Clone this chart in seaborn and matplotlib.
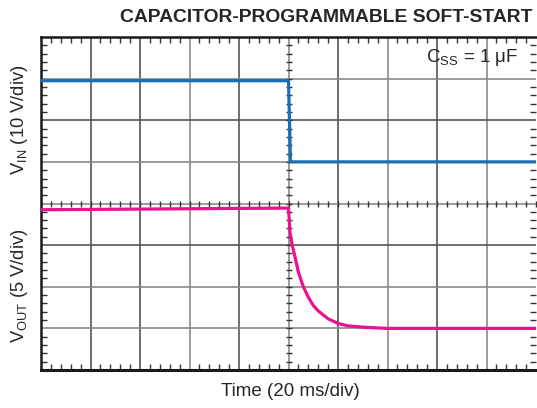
import numpy as np
import pandas as pd
import matplotlib
matplotlib.use("Agg")
import matplotlib.pyplot as plt
from matplotlib.ticker import MultipleLocator
import seaborn as sns

vin_t = [0, 100, 100.8, 200]
vin_div = [6.95, 6.95, 5.0, 5.0]

vout_t = [0, 100, 100.6, 101.5, 102.5, 104, 106, 108, 110, 112, 116, 120, 124, 130, 136, 140, 200]
vout_div = [3.85, 3.89, 3.3, 3.0, 2.75, 2.35, 2.0, 1.75, 1.55, 1.42, 1.23, 1.12, 1.06, 1.03, 1.01, 1.0, 1.0]

title = "CAPACITOR-PROGRAMMABLE SOFT-START"
xlabel = "Time (20 ms/div)"
ylabel_top = r"V$_{\mathregular{IN}}$ (10 V/div)"
ylabel_bot = r"V$_{\mathregular{OUT}}$ (5 V/div)"
note = r"C$_{\mathregular{SS}}$ = 1 μF"

sns.set_style("white")
plt.rcParams["font.family"] = ["Liberation Sans", "DejaVu Sans"]
plt.rcParams["mathtext.fontset"] = "custom"
plt.rcParams["mathtext.rm"] = "Liberation Sans"

df_in = pd.DataFrame({"t": vin_t, "v": vin_div})
df_out = pd.DataFrame({"t": vout_t, "v": vout_div})

fig = plt.figure(figsize=(5.37, 4.08), dpi=100)
ax = fig.add_axes([41 / 537, 1 - 370 / 408, 495 / 537, 333 / 408])

# grille type oscilloscope
vcols = ["#555555", "#555555", "#8a8a8a", "#555555", "#8a8a8a", "#555555", "#8a8a8a", "#555555", "#8a8a8a"]
for i, c in enumerate(vcols):
    ax.axvline(20 * (i + 1), color=c, lw=1.2, zorder=1)
hcols = ["#8a8a8a", "#8a8a8a", "#555555", "#8a8a8a", "#8a8a8a", "#555555", "#8a8a8a"]
for i, c in enumerate(hcols):
    ax.axhline(i + 1, color=c, lw=1.2, zorder=1)

# graduations sur les axes centraux
ax.plot(np.arange(0, 200.1, 4), np.full(51, 4.0), ls="none", marker="|", ms=5, mew=1, color="#333333", zorder=2)
ax.plot(np.full(41, 100.0), np.arange(0, 8.01, 0.2), ls="none", marker="_", ms=5, mew=1, color="#333333", zorder=2)

sns.lineplot(data=df_in, x="t", y="v", ax=ax, estimator=None, sort=False, color="#1b6db4", lw=2.3, zorder=3)
sns.lineplot(data=df_out, x="t", y="v", ax=ax, estimator=None, sort=False, color="#ec118f", lw=2.3, zorder=3)

ax.set_xlim(0, 200)
ax.set_ylim(0, 8)
ax.xaxis.set_major_locator(MultipleLocator(20))
ax.yaxis.set_major_locator(MultipleLocator(1))
ax.xaxis.set_minor_locator(MultipleLocator(4))
ax.yaxis.set_minor_locator(MultipleLocator(0.2))
ax.tick_params(which="both", direction="in", top=True, right=True, bottom=True, left=True,
               labelbottom=False, labelleft=False, color="#333333")
ax.tick_params(which="major", length=0)
ax.tick_params(which="minor", length=4.5, width=1)
for s in ax.spines.values():
    s.set_color("#1a1a1a")
    s.set_linewidth(1.8)
ax.spines["bottom"].set_linewidth(2.2)
ax.spines["right"].set_visible(False)
ax.set_xlabel("")
ax.set_ylabel("")

fig.text(533 / 537, 1 - 17 / 408, title, ha="right", va="center", fontsize=13.9, fontweight="bold")
fig.text(518 / 537, 1 - 57 / 408, note, ha="right", va="center", fontsize=13.5)
fig.text(20 / 537, 1 - 120 / 408, ylabel_top, rotation=90, ha="center", va="center", fontsize=13.2)
fig.text(20 / 537, 1 - 286 / 408, ylabel_bot, rotation=90, ha="center", va="center", fontsize=13.2)
fig.text(290 / 537, 1 - 392 / 408, xlabel, ha="center", va="center", fontsize=13.5)

fig.savefig("out.png", dpi=100)
